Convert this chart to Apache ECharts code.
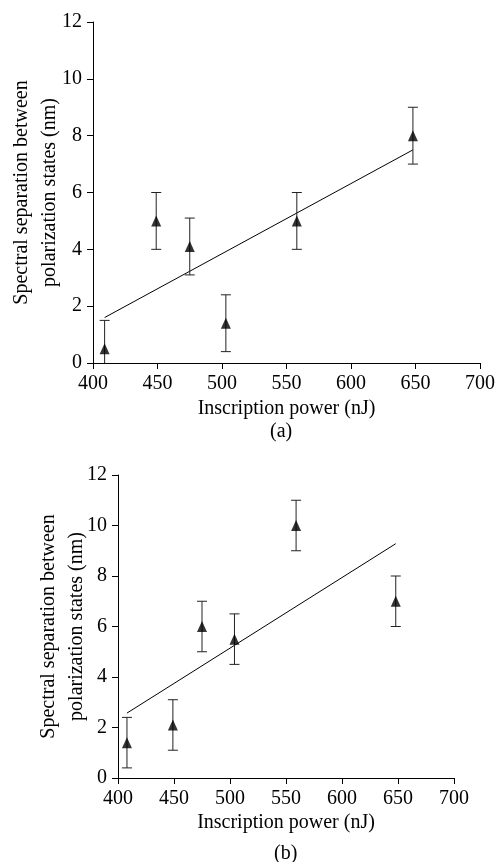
<!DOCTYPE html>
<html><head><meta charset="utf-8">
<script src="https://cdn.jsdelivr.net/npm/echarts@6/dist/echarts.min.js"></script>
<style>html,body{margin:0;padding:0;background:#fff}#c{width:500px;height:862px}</style>
</head><body><div id="c"></div>
<script>
// Panel (a)
const powerA = [409, 449, 475, 503, 558, 648];
const sepA = [0.5, 5.0, 4.1, 1.4, 5.0, 8.0];
const errA = [1.0, 1.0, 1.0, 1.0, 1.0, 1.0];
const fitA = [[409, 1.6], [648, 7.5]];
// Panel (b)
const powerB = [408, 449, 475, 504, 559, 648];
const sepB = [1.4, 2.1, 6.0, 5.5, 10.0, 7.0];
const errB = [1.0, 1.0, 1.0, 1.0, 1.0, 1.0];
const fitB = [[408, 2.57], [648, 9.28]];
const xTicks = {min: 400, max: 700, interval: 50};
const yTicks = {min: 0, max: 12, interval: 2};
const xTitle = 'Inscription power (nJ)';
const yTitle = 'Spectral separation between\npolarization states (nm)';
const captions = ['(a)', '(b)'];

const FONT = '"Liberation Serif", "Times New Roman", serif';
const chart = echarts.init(document.getElementById('c'), null, {renderer: 'canvas'});

function xAxis(gridIndex, gap) {
  return {
    type: 'value', gridIndex, min: xTicks.min, max: xTicks.max, interval: xTicks.interval,
    name: xTitle, nameLocation: 'middle', nameGap: gap,
    nameTextStyle: {fontFamily: FONT, fontSize: 20, color: '#000'},
    axisLine: {lineStyle: {color: '#000', width: 1}},
    axisTick: {inside: false, length: 6, lineStyle: {color: '#000'}},
    axisLabel: {fontFamily: FONT, fontSize: 20, color: '#000', margin: 11},
    splitLine: {show: false}
  };
}
function yAxis(gridIndex, gap) {
  return {
    type: 'value', gridIndex, min: yTicks.min, max: yTicks.max, interval: yTicks.interval,
    name: yTitle, nameLocation: 'middle', nameGap: gap, nameRotate: 90, nameMoveOverlap: false,
    nameTextStyle: {fontFamily: FONT, fontSize: 20, color: '#000', lineHeight: 28},
    axisLine: {show: true, lineStyle: {color: '#000', width: 1}},
    axisTick: {show: true, inside: false, length: 6, lineStyle: {color: '#000'}},
    axisLabel: {fontFamily: FONT, fontSize: 20, color: '#000', margin: 11},
    splitLine: {show: false}
  };
}
function errData(xs, ys, es) {
  return xs.map((x, i) => [x, ys[i] - es[i], ys[i] + es[i]]);
}
function errSeries(idx, data) {
  return {
    type: 'custom', xAxisIndex: idx, yAxisIndex: idx, clip: true, z: 2,
    data,
    renderItem: function (params, api) {
      const x = api.value(0);
      const lo = api.coord([x, api.value(1)]);
      const hi = api.coord([x, api.value(2)]);
      const hw = 5;
      const style = {stroke: '#222', lineWidth: 1, fill: null};
      return {
        type: 'group',
        children: [
          {type: 'line', shape: {x1: lo[0], y1: lo[1], x2: hi[0], y2: hi[1]}, style},
          {type: 'line', shape: {x1: hi[0] - hw, y1: hi[1], x2: hi[0] + hw, y2: hi[1]}, style},
          {type: 'line', shape: {x1: lo[0] - hw, y1: lo[1], x2: lo[0] + hw, y2: lo[1]}, style}
        ]
      };
    }
  };
}
function scatter(idx, xs, ys) {
  return {
    type: 'scatter', xAxisIndex: idx, yAxisIndex: idx, z: 3,
    symbol: 'triangle', symbolSize: [10, 11],
    itemStyle: {color: '#000'},
    data: xs.map((x, i) => [x, ys[i]])
  };
}
function fit(idx, d) {
  return {
    type: 'line', xAxisIndex: idx, yAxisIndex: idx, z: 1,
    symbol: 'none', lineStyle: {color: '#000', width: 1}, data: d, animation: false
  };
}

chart.setOption({
  animation: false,
  backgroundColor: '#fff',
  title: [
    {text: captions[0], left: 265, top: 417, textStyle: {fontFamily: FONT, fontSize: 20, fontWeight: 'normal', color: '#000'}},
    {text: captions[1], left: 269, top: 839, textStyle: {fontFamily: FONT, fontSize: 20, fontWeight: 'normal', color: '#000'}}
  ],
  grid: [
    {left: 93, top: 22, width: 387, height: 341, containLabel: false, outerBoundsMode: 'none'},
    {left: 118, top: 475, width: 336, height: 303, containLabel: false, outerBoundsMode: 'none'}
  ],
  xAxis: [xAxis(0, 36), xAxis(1, 35)],
  yAxis: [yAxis(0, 29), yAxis(1, 27)],
  series: [
    fit(0, fitA), errSeries(0, errData(powerA, sepA, errA)), scatter(0, powerA, sepA),
    fit(1, fitB), errSeries(1, errData(powerB, sepB, errB)), scatter(1, powerB, sepB)
  ]
});
</script></body></html>
